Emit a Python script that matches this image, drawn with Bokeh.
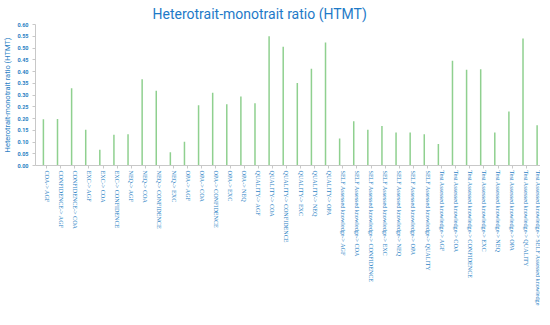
import math
from bokeh.plotting import figure
from bokeh.models import ColumnDataSource, Range1d, FixedTicker, SingleIntervalTicker, NumeralTickFormatter, Title
from bokeh.embed import file_html
from bokeh.resources import INLINE

categories = [
    "COA-> AGF", "CONFIDENCE-> AGF", "CONFIDENCE-> COA", "EXC-> AGF", "EXC-> COA",
    "EXC-> CONFIDENCE", "NEQ-> AGF", "NEQ-> COA", "NEQ-> CONFIDENCE", "NEQ-> EXC",
    "OPA-> AGF", "OPA-> COA", "OPA-> CONFIDENCE", "OPA-> EXC", "OPA-> NEQ",
    "QUALITY-> AGF", "QUALITY-> COA", "QUALITY-> CONFIDENCE", "QUALITY-> EXC",
    "QUALITY-> NEQ", "QUALITY-> OPA",
    "SELF Assessed knowledge-> AGF", "SELF Assessed knowledge-> COA",
    "SELF Assessed knowledge-> CONFIDENCE", "SELF Assessed knowledge-> EXC",
    "SELF Assessed knowledge-> NEQ", "SELF Assessed knowledge-> OPA",
    "SELF Assessed knowledge-> QUALITY",
    "Test Assessed knowledge-> AGF", "Test Assessed knowledge-> COA",
    "Test Assessed knowledge-> CONFIDENCE", "Test Assessed knowledge-> EXC",
    "Test Assessed knowledge-> NEQ", "Test Assessed knowledge-> OPA",
    "Test Assessed knowledge-> QUALITY",
    "Test Assessed knowledge-> SELF Assessed knowledge",
]
htmt = [
    0.197, 0.198, 0.329, 0.152, 0.067, 0.131, 0.133, 0.367, 0.318, 0.056,
    0.101, 0.256, 0.310, 0.261, 0.294, 0.265, 0.550, 0.505, 0.351, 0.412,
    0.524, 0.115, 0.188, 0.152, 0.168, 0.140, 0.140, 0.133, 0.092, 0.446,
    0.408, 0.410, 0.140, 0.230, 0.540, 0.171,
]

BLUE = "#2a7fc4"
GREEN = "#8fd08f"

idx = list(range(len(categories)))
tick_pos = [i + 0.23 for i in idx]
src = ColumnDataSource(dict(x=idx, v=htmt, z=[0.0] * len(htmt)))

p = figure(
    width=540, height=309,
    x_range=Range1d(-0.56, len(categories) - 0.76),
    y_range=Range1d(0, 0.6001),
    output_backend="svg", toolbar_location=None,
    min_border=0,
)
p.title = Title(text="Heterotrait-monotrait ratio (HTMT)", align="left",
                text_color="#1e7ac8", text_font="Roboto", text_font_style="normal",
                text_font_size="14px", offset=117, standoff=6)

p.segment(x0="x", y0="z", x1="x", y1="v", source=src,
          line_color=GREEN, line_width=1.5)

p.outline_line_color = None
p.xgrid.grid_line_color = None
p.ygrid.grid_line_color = None

p.yaxis.ticker = SingleIntervalTicker(interval=0.05)
p.yaxis.formatter = NumeralTickFormatter(format="0.00")
p.yaxis.axis_label = "Heterotrait-monotrait ratio (HTMT)"
p.yaxis.axis_label_text_font = "Roboto"
p.yaxis.axis_label_text_font_style = "normal"
p.yaxis.axis_label_text_font_size = "7.5px"
p.yaxis.axis_label_text_color = BLUE
p.yaxis.axis_label_standoff = 2
p.yaxis.major_label_text_font = "Roboto"
p.yaxis.major_label_text_font_style = "bold"
p.yaxis.major_label_text_font_size = "5.5px"
p.yaxis.major_label_text_color = BLUE
p.yaxis.major_label_standoff = 3
p.yaxis.minor_tick_line_color = None
p.yaxis.major_tick_out = 3
p.yaxis.major_tick_in = 0
p.yaxis.axis_line_color = "#c8c8c8"
p.yaxis.major_tick_line_color = "#c8c8c8"

p.xaxis.ticker = FixedTicker(ticks=tick_pos, minor_ticks=[])
p.xaxis.major_label_overrides = {t: c for t, c in zip(tick_pos, categories)}
p.xaxis.major_label_orientation = -math.pi / 2
p.xaxis.major_label_text_font = "Liberation Serif"
p.xaxis.major_label_text_font_size = "6.1px"
p.xaxis.major_label_text_color = BLUE
p.xaxis.major_label_standoff = 2
p.xaxis.major_tick_out = 3
p.xaxis.major_tick_in = 0
p.xaxis.axis_line_color = "#c8c8c8"
p.xaxis.major_tick_line_color = "#c8c8c8"

open("out.html", "w").write(file_html(p, INLINE))
